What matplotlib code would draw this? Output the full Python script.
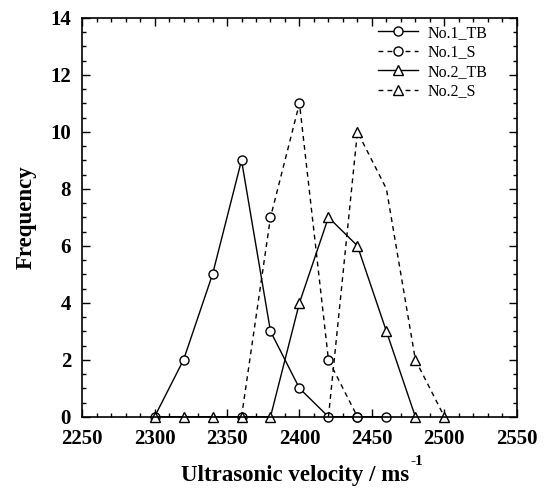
import matplotlib
matplotlib.use("Agg")
import matplotlib.pyplot as plt
from matplotlib.ticker import MultipleLocator

plt.rcParams['font.family'] = ['Liberation Serif', 'DejaVu Serif']

# Velocity bins and frequency counts for each specimen/condition
v_no1_tb = [2300, 2320, 2340, 2360, 2380, 2400, 2420, 2440, 2460]
f_no1_tb = [0, 2, 5, 9, 3, 1, 0, 0, 0]

v_no1_s = [2360, 2380, 2400, 2420, 2440]
f_no1_s = [0, 7, 11, 2, 0]

v_no2_tb = [2300, 2320, 2340, 2360, 2380, 2400, 2420, 2440, 2460, 2480]
f_no2_tb = [0, 0, 0, 0, 0, 4, 7, 6, 3, 0]

v_no2_s = [2420, 2440, 2460, 2480, 2500]
f_no2_s = [0, 10, 8, 2, 0]
no2_s_marked = [1, 3, 4]

labels = ['No.1_TB', 'No.1_S', 'No.2_TB', 'No.2_S']

fig = plt.figure(figsize=(5.44, 4.95), dpi=100)
ax = fig.add_axes([0.151, 0.158, 0.799, 0.806])

dash = (0, (3.5, 3.0))
common = dict(color='black', lw=1.0, markerfacecolor='white',
              markeredgecolor='black', markeredgewidth=1.0, clip_on=False)

ax.plot(v_no1_tb, f_no1_tb, '-', marker='o', ms=6.5, label=labels[0], **common)
ax.plot(v_no1_s, f_no1_s, linestyle=dash, marker='o', ms=6.5, label=labels[1], **common)
ax.plot(v_no2_tb, f_no2_tb, '-', marker='^', ms=7.5, label=labels[2], **common)
ax.plot(v_no2_s, f_no2_s, linestyle=dash, marker='^', ms=7.5,
        markevery=no2_s_marked, label=labels[3], **common)

ax.set_xlim(2250, 2550)
ax.set_ylim(0, 14)
ax.xaxis.set_major_locator(MultipleLocator(50))
ax.xaxis.set_minor_locator(MultipleLocator(10))
ax.yaxis.set_major_locator(MultipleLocator(2))
ax.yaxis.set_minor_locator(MultipleLocator(0.5))
ax.tick_params(which='both', direction='in', top=True, right=True, width=1.0)
ax.tick_params(which='major', length=6, labelsize=15)
ax.tick_params(axis='x', which='major', pad=9)
ax.tick_params(axis='y', which='major', pad=8)
ax.tick_params(which='minor', length=3)
for lbl in ax.get_xticklabels() + ax.get_yticklabels():
    lbl.set_fontweight('bold')
for s in ax.spines.values():
    s.set_linewidth(1.2)

xl = ax.set_xlabel('Ultrasonic velocity / ms', fontsize=16.5,
                   fontweight='bold', labelpad=11)
ax.xaxis.label.set_x(0.49)
ax.set_ylabel('Frequency', fontsize=16.5, fontweight='bold', labelpad=10)

ax.legend(loc='upper left', frameon=False, fontsize=11.5, handlelength=2.5,
          handletextpad=0.6, labelspacing=0.22, borderpad=0.0,
          borderaxespad=0.0, bbox_to_anchor=(0.68, 0.982))

# Superscript unit exponent placed just after the x-axis label
fig.canvas.draw()
bb = xl.get_window_extent().transformed(fig.transFigure.inverted())
fig.text(bb.x1 + 0.003, bb.y1 - 0.006, '-1', fontsize=11, fontweight='bold',
         ha='left', va='bottom')

fig.savefig('out.png', dpi=100)
